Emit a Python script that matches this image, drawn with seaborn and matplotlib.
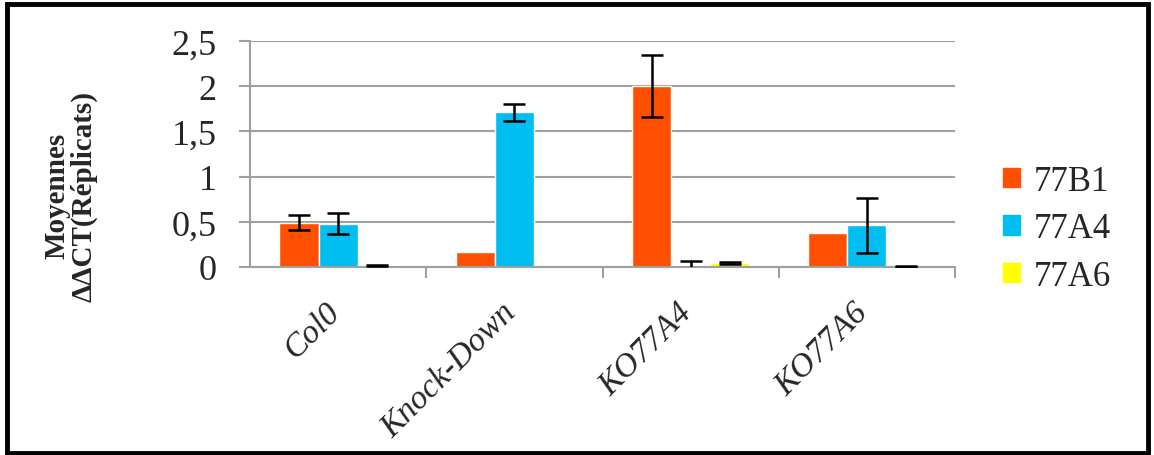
import numpy as np
import pandas as pd
import matplotlib
matplotlib.use("Agg")
import matplotlib.pyplot as plt
import matplotlib.patches as mpatches
import matplotlib.transforms as mtransforms
import seaborn as sns

lignees = ["Col0", "Knock-Down", "KO77A4", "KO77A6"]
genes = ["77B1", "77A4", "77A6"]
moy_77B1 = [0.49, 0.17, 2.00, 0.38]
moy_77A4 = [0.48, 1.71, 0.02, 0.46]
moy_77A6 = [0.02, 0.0, 0.04, 0.005]
err_77B1 = [0.08, np.nan, 0.34, np.nan]
err_77A4 = [0.12, 0.09, 0.045, 0.30]
err_77A6 = [0.005, np.nan, 0.01, 0.003]
couleurs = ["#FF4F00", "#00BFF0", "#FFFF00"]

df = pd.DataFrame({
    "Lignee": lignees * 3,
    "Gene": [g for g in genes for _ in lignees],
    "Moyenne": moy_77B1 + moy_77A4 + moy_77A6,
})
erreurs = [err_77B1, err_77A4, err_77A6]

sns.set_style("white")
plt.rcParams["font.family"] = ["Liberation Serif", "DejaVu Serif"]

fig = plt.figure(figsize=(11.54, 4.56), dpi=100)
ax = fig.add_axes([0.2166, 0.4123, 0.8276 - 0.2166, 0.9079 - 0.4123])

sns.barplot(data=df, x="Lignee", y="Moyenne", hue="Gene", palette=couleurs,
            saturation=1, width=0.665, gap=0, errorbar=None, ax=ax,
            legend=False, zorder=2)

for cont, err in zip(ax.containers, erreurs):
    xs = [p.get_x() + p.get_width() / 2 for p in cont]
    ys = [p.get_height() for p in cont]
    ax.errorbar(xs, ys, yerr=err, fmt="none", ecolor="black", elinewidth=1.8,
                capsize=8, capthick=1.8, zorder=3)

ax.set_ylim(0, 2.5)
ax.set_xlim(-0.5, 3.5)
ax.set_yticks([0, 0.5, 1, 1.5, 2, 2.5])
ax.set_yticklabels(["0", "0,5", "1", "1,5", "2", "2,5"], fontsize=26)
ax.yaxis.grid(True, color="#A0A0A0", linewidth=1.5, zorder=0)
ax.set_axisbelow(True)
for s in ["top", "right"]:
    ax.spines[s].set_visible(False)
for s in ["left", "bottom"]:
    ax.spines[s].set_color("#A0A0A0")
    ax.spines[s].set_linewidth(1.5)
ax.tick_params(axis="y", which="major", left=True, length=8, width=1.5,
               color="#A0A0A0", pad=16)

# ticks between categories
ax.set_xticks([0.5, 1.5, 2.5, 3.5], minor=True)
ax.tick_params(axis="x", which="minor", bottom=True, length=8, width=1.5, color="#A0A0A0")
ax.tick_params(axis="x", which="major", bottom=False, pad=18)
ax.set_xticks(range(len(lignees)))
ax.set_xticklabels(lignees, rotation=45, ha="right", rotation_mode="anchor",
                   fontsize=24, style="italic")
decal = mtransforms.ScaledTranslation(-14 / 100, 0, fig.dpi_scale_trans)
for lab in ax.get_xticklabels():
    lab.set_transform(lab.get_transform() + decal)
ax.set_xlabel("")
ax.set_ylabel("")

fig.text(0.061, 0.57, "Moyennes\nΔΔCT(Réplicats)", rotation=90, ha="center",
         va="center", fontsize=21, fontweight="bold", linespacing=1.0)

handles = [mpatches.Patch(color=c) for c in couleurs]
fig.legend(handles, genes, loc="center left", bbox_to_anchor=(0.869, 0.496),
           frameon=False, fontsize=25, handlelength=0.5, handleheight=0.5,
           handletextpad=0.4, labelspacing=0.42, borderpad=0, borderaxespad=0)

fig.patches.append(mpatches.Rectangle((0.006, 0.004), 0.989, 0.985, transform=fig.transFigure,
                                      fill=False, edgecolor="black", linewidth=3.5))

fig.savefig("out.png", dpi=100)
